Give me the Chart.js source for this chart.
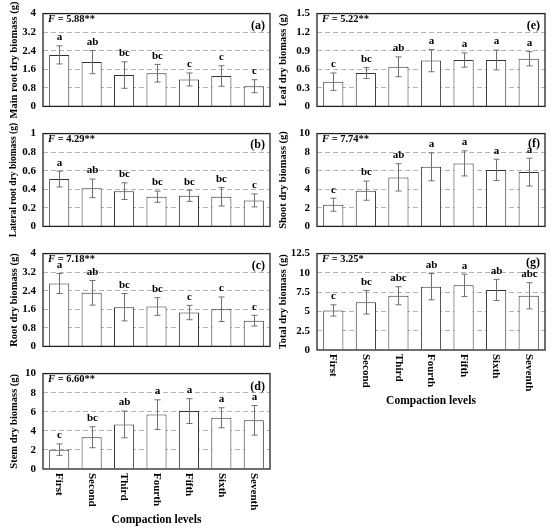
<!DOCTYPE html>
<html><head><meta charset="utf-8">
<script src="https://cdn.jsdelivr.net/npm/chart.js@4"></script>
<style>html,body{margin:0;padding:0;background:#fff;width:550px;height:528px;overflow:hidden;position:relative}canvas{position:absolute}</style>
</head><body>
<script>
const categories = ["First","Second","Third","Fourth","Fifth","Sixth","Seventh"];

const mainRoot = [2.22,1.91,1.35,1.43,1.16,1.31,0.87];
const mainRootErr = [0.39,0.50,0.57,0.38,0.28,0.44,0.28];
const mainRootLetters = ["a","ab","bc","bc","c","c","c"];
const mainRootTicks = ["0","0.8","1.6","2.4","3.2","4"];

const lateralRoot = [0.51,0.41,0.38,0.32,0.33,0.32,0.28];
const lateralRootErr = [0.085,0.10,0.09,0.06,0.06,0.10,0.07];
const lateralRootLetters = ["a","ab","bc","bc","bc","bc","c"];
const lateralRootTicks = ["0","0.2","0.4","0.6","0.8","1"];

const rootDry = [2.71,2.31,1.69,1.72,1.46,1.60,1.11];
const rootDryErr = [0.43,0.53,0.59,0.38,0.31,0.53,0.23];
const rootDryLetters = ["a","ab","bc","bc","c","c","c"];
const rootDryTicks = ["0","0.8","1.6","2.4","3.2","4"];

const stemDry = [2.03,3.33,4.67,5.70,6.07,5.37,5.10];
const stemDryErr = [0.60,1.10,1.40,1.55,1.30,1.05,1.55];
const stemDryLetters = ["c","bc","ab","a","a","a","a"];
const stemDryTicks = ["0","2","4","6","8","10"];

const leafDry = [0.40,0.54,0.64,0.74,0.75,0.75,0.77];
const leafDryErr = [0.14,0.09,0.16,0.18,0.115,0.16,0.115];
const leafDryLetters = ["c","bc","ab","a","a","a","a"];
const leafDryTicks = ["0","0.3","0.6","0.9","1.2","1.5"];

const shootDry = [2.34,3.85,5.28,6.42,6.79,6.09,5.85];
const shootDryErr = [0.70,1.03,1.47,1.50,1.35,1.15,1.50];
const shootDryLetters = ["c","bc","ab","a","a","a","a"];
const shootDryTicks = ["0","2","4","6","8","10"];

const totalDry = [5.13,6.19,7.03,8.21,8.38,7.79,7.03];
const totalDryErr = [0.73,1.53,1.17,1.70,1.45,1.37,1.70];
const totalDryLetters = ["c","bc","abc","ab","a","ab","abc"];
const totalDryTicks = ["0","2.5","5","7.5","10","12.5"];

const FONT = "'Liberation Serif', 'Times New Roman', serif";

function makePanel(cfg) {
  const c = document.createElement('canvas');
  c.width = cfg.w; c.height = cfg.h;
  c.style.left = cfg.x + 'px'; c.style.top = cfg.y + 'px';
  c.style.width = cfg.w + 'px'; c.style.height = cfg.h + 'px';
  document.body.appendChild(c);
  const caL = cfg.caLeft - cfg.x, caT = cfg.caTop - cfg.y;
  const caR = cfg.x + cfg.w - cfg.caRight, caB = cfg.y + cfg.h - cfg.caBottom;

  const decor = {
    id: 'decor',
    afterDatasetsDraw(chart) {
      const ctx = chart.ctx, ys = chart.scales.y;
      const meta = chart.getDatasetMeta(0);
      ctx.save();
      ctx.strokeStyle = '#707070'; ctx.lineWidth = 1;
      ctx.fillStyle = '#000';
      ctx.font = 'bold 11px ' + FONT;
      ctx.textAlign = 'center'; ctx.textBaseline = 'bottom';
      cfg.values.forEach((v, i) => {
        const x = Math.round(meta.data[i].x) + 0.5;
        const yt = ys.getPixelForValue(v + cfg.err[i]);
        const yb = ys.getPixelForValue(v - cfg.err[i]);
        ctx.beginPath();
        ctx.moveTo(x, yt); ctx.lineTo(x, yb);
        ctx.moveTo(x - 3, yt); ctx.lineTo(x + 3, yt);
        ctx.moveTo(x - 3, yb); ctx.lineTo(x + 3, yb);
        ctx.stroke();
        ctx.fillText(cfg.letters[i], x, yt - 3);
      });
      ctx.restore();
    },
    afterDraw(chart) {
      const ctx = chart.ctx, ca = chart.chartArea;
      const meta = chart.getDatasetMeta(0);
      ctx.save();
      ctx.strokeStyle = '#222'; ctx.lineWidth = 1.3;
      ctx.strokeRect(ca.left, ca.top, ca.right - ca.left, ca.bottom - ca.top);
      ctx.fillStyle = '#000';
      ctx.textBaseline = 'middle'; ctx.textAlign = 'left';
      ctx.font = 'italic bold 10.5px ' + FONT;
      const fx = ca.left + 5, fy = ca.top + 6;
      ctx.fillText('F', fx, fy);
      const fw = ctx.measureText('F').width;
      ctx.font = 'bold 10.5px ' + FONT;
      ctx.fillText(' = ' + cfg.F, fx + fw, fy);
      ctx.font = 'bold 12px ' + FONT;
      ctx.textAlign = 'right';
      ctx.fillText(cfg.label, ca.right - 5, ca.top + (cfg.labelDy || 12));
      if (cfg.showX) {
        ctx.font = 'bold 11px ' + FONT;
        ctx.textAlign = 'left'; ctx.textBaseline = 'middle';
        categories.forEach((cat, i) => {
          ctx.save();
          ctx.translate(meta.data[i].x, ca.bottom + 4);
          ctx.rotate(Math.PI / 2);
          ctx.fillText(cat, 0, 0);
          ctx.restore();
        });
        ctx.font = 'bold 11.5px ' + FONT;
        ctx.textAlign = 'center';
        ctx.fillText('Compaction levels', (ca.left + ca.right) / 2, cfg.xTitleY - cfg.y);
      }
      ctx.restore();
    }
  };

  new Chart(c, {
    type: 'bar',
    data: { labels: categories, datasets: [{ data: cfg.values, backgroundColor: '#ffffff', borderColor: '#333', borderWidth: 1, barPercentage: 0.62, categoryPercentage: 1 }] },
    options: {
      responsive: false, animation: false, devicePixelRatio: 1,
      layout: { padding: { left: 0, top: caT, right: caR, bottom: 0 } },
      plugins: { legend: { display: false }, tooltip: { enabled: false } },
      scales: {
        x: { ticks: { display: false }, grid: { display: false }, border: { display: false },
             afterFit(s) { s.height = caB; } },
        y: { min: 0, max: cfg.max,
             ticks: { stepSize: cfg.step, padding: 7, color: '#000', font: { family: FONT, size: 11, weight: 'bold' },
                      callback: (v, i) => cfg.ticks[i] },
             grid: { drawTicks: false, lineWidth: 1,
                     color: (ctx) => (ctx.index === 0 || ctx.index === cfg.ticks.length - 1) ? 'rgba(0,0,0,0)' : '#b4b4b4' },
             border: { display: false, dash: [5, 3] },
             title: { display: true, text: cfg.title, color: '#000', font: { family: FONT, size: cfg.titleSize || 10.5, weight: 'bold' }, padding: { top: cfg.titlePad, bottom: 0 } },
             afterFit(s) { s.width = caL; } }
      }
    },
    plugins: [decor]
  });
}

makePanel({ x: 0, y: 0, w: 275, h: 120, caLeft: 43, caTop: 12, caRight: 270, caBottom: 113, max: 4, step: 0.8,
  values: mainRoot, err: mainRootErr, letters: mainRootLetters, ticks: mainRootTicks,
  title: 'Main root dry biomass (g)', F: '5.88**', label: '(a)', titlePad: 7.5, labelDy: 12 });
makePanel({ x: 0, y: 120, w: 275, h: 120, caLeft: 43, caTop: 132, caRight: 270, caBottom: 231, max: 1, step: 0.2,
  values: lateralRoot, err: lateralRootErr, letters: lateralRootLetters, ticks: lateralRootTicks,
  title: 'Lateral root dry biomass (g)', F: '4.29**', label: '(b)', titlePad: 7.5, titleSize: 9.5, labelDy: 11 });
makePanel({ x: 0, y: 240, w: 275, h: 120, caLeft: 43, caTop: 251, caRight: 270, caBottom: 349, max: 4, step: 0.8,
  values: rootDry, err: rootDryErr, letters: rootDryLetters, ticks: rootDryTicks,
  title: 'Root dry biomass (g)', F: '7.18**', label: '(c)', titlePad: 7.5, labelDy: 12 });
makePanel({ x: 0, y: 360, w: 275, h: 168, caLeft: 43, caTop: 369, caRight: 270, caBottom: 469, max: 10, step: 2,
  values: stemDry, err: stemDryErr, letters: stemDryLetters, ticks: stemDryTicks,
  title: 'Stem dry biomass (g)', F: '6.60**', label: '(d)', titlePad: 8, showX: true, xTitleY: 520, labelDy: 13 });

makePanel({ x: 275, y: 0, w: 275, h: 120, caLeft: 317, caTop: 12, caRight: 545, caBottom: 113, max: 1.5, step: 0.3,
  values: leafDry, err: leafDryErr, letters: leafDryLetters, ticks: leafDryTicks,
  title: 'Leaf dry biomass (g)', F: '5.22**', label: '(e)', titlePad: 1.7, labelDy: 12 });
makePanel({ x: 275, y: 120, w: 275, h: 120, caLeft: 317, caTop: 131, caRight: 545, caBottom: 231, max: 10, step: 2,
  values: shootDry, err: shootDryErr, letters: shootDryLetters, ticks: shootDryTicks,
  title: 'Shoot dry biomass (g)', F: '7.74**', label: '(f)', titlePad: 1.7, labelDy: 10 });
makePanel({ x: 275, y: 240, w: 275, h: 170, caLeft: 317, caTop: 251, caRight: 545, caBottom: 350, max: 12.5, step: 2.5,
  values: totalDry, err: totalDryErr, letters: totalDryLetters, ticks: totalDryTicks,
  title: 'Total dry biomass (g)', F: '3.25*', label: '(g)', titlePad: 1.7, showX: true, xTitleY: 401, labelDy: 9 });
</script>
</body></html>
